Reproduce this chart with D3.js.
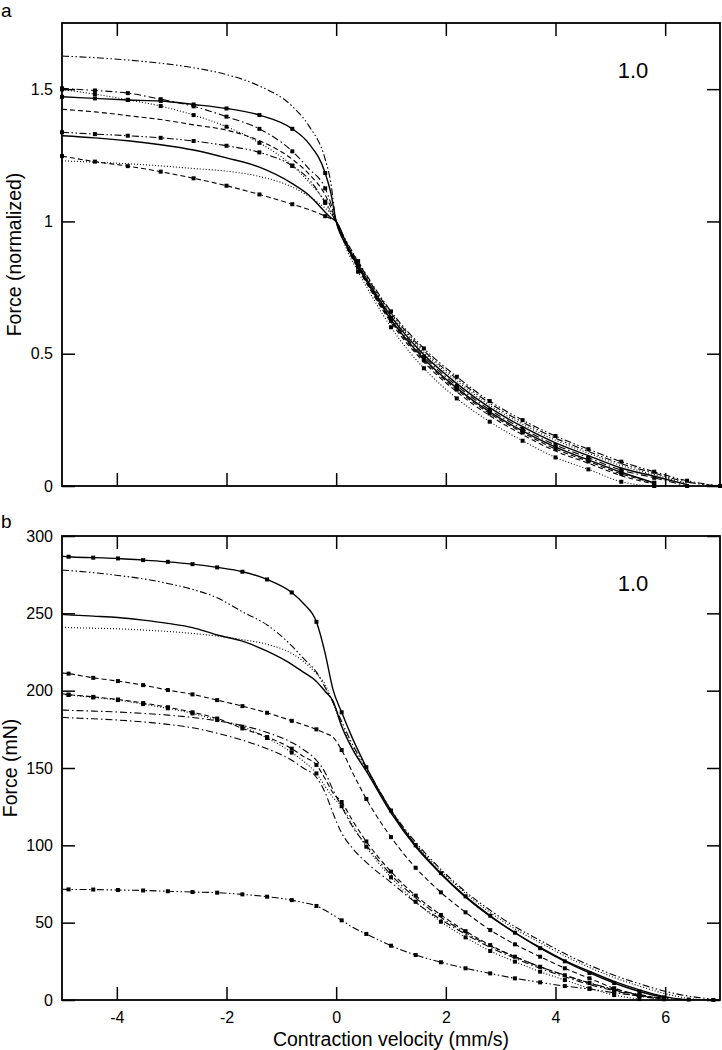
<!DOCTYPE html>
<html>
<head>
<meta charset="utf-8">
<script src="https://cdn.jsdelivr.net/npm/d3@7"></script>
<style>
  body { margin: 0; background: #fff; }
  svg { font-family: "Liberation Sans", Arial, Helvetica, sans-serif; }
</style>
</head>
<body>
<div id="chart"></div>
<script>
// ---- values ----
const ticksX = [-4, -2, 0, 2, 4, 6];
const ticksYA = [0, 0.5, 1, 1.5];
const ticksYB = [0, 50, 100, 150, 200, 250, 300];
const xTitle = "Contraction velocity (mm/s)";
const yTitleA = "Force (normalized)";
const yTitleB = "Force (mN)";
const cornerLabel = "1.0";

// panel a: normalized force, one velocity grid for every trace
const velA = [-5, -4.4, -3.8, -3.2, -2.6, -2, -1.4, -0.8, -0.5, -0.2, -0.1, 0, 0.2, 0.4, 0.7, 1, 1.6, 2.2, 2.8, 3.4, 4, 4.6, 5.2, 5.8, 6.4, 7];
const normDdd     = [1.625, 1.619, 1.610, 1.598, 1.581, 1.555, 1.512, 1.435, 1.362, 1.235, 1.15, 1.0, 0.917, 0.846, 0.745, 0.654, 0.512, 0.405, 0.313, 0.241, 0.181, 0.131, 0.084, 0.049, 0.015, 0];
const normDashDotMk = [1.503, 1.495, 1.485, 1.462, 1.435, 1.396, 1.35, 1.265, 1.2, 1.125, 1.07, 1.0, 0.907, 0.833, 0.729, 0.635, 0.489, 0.379, 0.288, 0.216, 0.155, 0.107, 0.06, 0.031, 0, null];
const normDotMk   = [1.499, 1.481, 1.46, 1.436, 1.402, 1.358, 1.297, 1.211, 1.15, 1.075, 1.04, 1.0, 0.89, 0.81, 0.70, 0.60, 0.445, 0.331, 0.243, 0.171, 0.108, 0.063, 0.016, 0, null, null];
const normSolidMk = [1.471, 1.465, 1.459, 1.455, 1.442, 1.427, 1.402, 1.35, 1.295, 1.183, 1.11, 1.0, 0.904, 0.829, 0.724, 0.629, 0.481, 0.370, 0.280, 0.208, 0.147, 0.099, 0.052, 0.012, null, null];
const normDash    = [1.424, 1.414, 1.40, 1.385, 1.365, 1.345, 1.305, 1.235, 1.18, 1.1, 1.055, 1.0, 0.899, 0.822, 0.715, 0.618, 0.468, 0.356, 0.266, 0.194, 0.132, 0.086, 0.039, 0.008, null, null];
const normDddMk   = [1.337, 1.330, 1.324, 1.316, 1.304, 1.286, 1.261, 1.21, 1.16, 1.07, 1.035, 1.0, 0.92, 0.85, 0.75, 0.66, 0.52, 0.413, 0.321, 0.249, 0.189, 0.139, 0.092, 0.054, 0.02, 0];
const normSolid   = [1.324, 1.316, 1.305, 1.29, 1.27, 1.24, 1.205, 1.143, 1.1, 1.035, 1.015, 1.0, 0.910, 0.837, 0.734, 0.641, 0.496, 0.387, 0.296, 0.224, 0.163, 0.115, 0.068, 0.037, 0.005, null];
const normDashMk  = [1.247, 1.226, 1.209, 1.188, 1.163, 1.135, 1.102, 1.065, 1.045, 1.02, 1.01, 1.0, 0.902, 0.826, 0.72, 0.624, 0.475, 0.364, 0.274, 0.202, 0.14, 0.093, 0.046, 0.012, null, null];
const normDot     = [1.229, 1.224, 1.218, 1.21, 1.20, 1.19, 1.17, 1.13, 1.095, 1.05, 1.03, 1.0, 0.914, 0.842, 0.74, 0.648, 0.505, 0.397, 0.305, 0.233, 0.173, 0.124, 0.077, 0.043, 0.01, null];

// panel b: force in mN
const velB = [-5, -4.88, -4.43, -3.98, -3.52, -3.07, -2.62, -2.17, -1.71, -1.26, -0.81, -0.6, -0.36, -0.2, -0.06, 0.1, 0.3, 0.55, 1.0, 1.45, 1.91, 2.36, 2.81, 3.26, 3.72, 4.17, 4.62, 5.07, 5.53, 5.98, 6.43, 6.88, 7.0];
const forceSolidMk = [287, 286.6, 286, 285.5, 284.4, 283.3, 281.8, 279.7, 276.9, 271.9, 263.5, 256.5, 244.5, 224, 201, 186, 169, 150.5, 122.5, 100, 82, 67, 54.5, 43.5, 33.5, 25, 17.5, 11, 5.5, 1.7, null, null, null];
const forceDdd     = [278, 277.7, 276.3, 274.5, 272.3, 269.3, 265.5, 260, 251, 242.5, 229, 221, 212, 202, 192.5, 180, 165, 150, 123, 102, 84.5, 70, 58, 47.5, 38.5, 30, 22.5, 16, 10.5, 5.8, 2.5, 0.5, 0];
const forceSolid   = [249.3, 249, 248.2, 247.3, 245.6, 243.5, 240.8, 236, 232, 225.5, 217, 212, 206, 199.5, 193.5, 177, 162, 148, 121, 99, 81.5, 66.5, 54, 43.5, 34, 25.5, 18.5, 12, 6.5, 2.2, 0, null, null];
const forceDot     = [241, 240.8, 240.4, 240, 239.2, 238.3, 237, 235.3, 233, 230, 224, 219, 211, 204, 192, 178, 163, 149, 122.5, 101, 83.5, 69, 56.5, 46, 37, 28.5, 21, 14.5, 9, 4.3, 1, 0, null];
const forceDashMk  = [211.5, 211, 208.3, 206.2, 203.6, 200.4, 197.6, 193.9, 190, 185.7, 180.5, 178, 175, 172.5, 170, 161.6, 147, 130, 105.3, 85.5, 69.6, 56.7, 45.2, 36, 28, 20.5, 14, 7.6, 3.2, 1.1, null, null, null];
const forceDotMk   = [197.5, 197.2, 195.6, 193.9, 191.3, 188.6, 185.3, 181, 176.7, 169.4, 160, 154.5, 146.5, 138, 131, 125.3, 113, 99.1, 79.3, 63.5, 50.6, 40.5, 31.7, 24.8, 18.3, 12.9, 7.6, 3.2, 0.6, null, null, null, null];
const forceDashMk2 = [198, 197.5, 196, 194.3, 192, 189.3, 186, 182, 175.6, 170, 162.5, 157.5, 152, 143, 134, 128, 116, 102.5, 83, 67.5, 55, 44.5, 35.5, 28, 21.5, 16, 11, 6.5, 3, 0.5, null, null, null];
const forceDashDot  = [187.5, 187.3, 186.8, 186.2, 185.3, 184.2, 182.7, 180.5, 177.5, 173, 166.5, 162, 155, 147, 136, 125, 112, 100, 81, 66, 53.5, 43.5, 35, 28, 21.5, 16, 11, 7, 3.5, 1, null, null, null];
const forceDashDot2 = [182.7, 182.5, 181.8, 181, 179.8, 178.2, 176, 172.5, 168, 162.5, 155, 150, 144, 134, 121, 108, 98, 89, 76, 63, 52, 42.5, 34, 27, 20.5, 15, 10, 6, 2.5, 0.3, null, null, null];
const forceDddMk   = [71.6, 71.5, 71.4, 71.1, 70.8, 70.3, 69.8, 69.4, 68.3, 66.8, 64.6, 63, 60.8, 58, 55, 51.5, 47, 42.7, 35.1, 29.1, 24.4, 20.5, 17.2, 14, 11.4, 9, 7.1, 4.7, 2.6, 1.1, 0.3, 0, 0];

// ---- look ----
const dashes = {
  solid: null,
  dashed: "5,3",
  dotted: "1,2",
  dashdot: "7,3,1.5,3",
  dashdotdot: "7,2.5,1.5,2.5,1.5,2.5"
};

const width = 722;
const height = 1050;
const margin = {left: 62, right: 2};
const tickLen = 13;

const svg = d3.select("#chart").append("svg")
  .attr("width", width)
  .attr("height", height);

const x = d3.scaleLinear().domain([-5, 7]).range([margin.left, width - margin.right]);

const panels = [
  {
    id: "a", top: 23, bottom: 486, yDomain: [0, 1.75], yTicks: ticksYA,
    vel: velA, markStart: -5, markStep: 0.6, showX: false,
    yTitle: yTitleA, yTitleX: 21, idY: 17,
    traces: [
      {values: normDdd, style: "dashdotdot", marks: false},
      {values: normDashDotMk, style: "dashdot", marks: true},
      {values: normDotMk, style: "dotted", marks: true},
      {values: normSolidMk, style: "solid", marks: true},
      {values: normDash, style: "dashed", marks: false},
      {values: normDddMk, style: "dashdotdot", marks: true},
      {values: normSolid, style: "solid", marks: false},
      {values: normDashMk, style: "dashed", marks: true},
      {values: normDot, style: "dotted", marks: false}
    ]
  },
  {
    id: "b", top: 536, bottom: 1000, yDomain: [0, 300], yTicks: ticksYB,
    vel: velB, markStart: -4.88, markStep: 0.4523, showX: true,
    yTitle: yTitleB, yTitleX: 17, idY: 528,
    traces: [
      {values: forceSolidMk, style: "solid", marks: true},
      {values: forceDdd, style: "dashdotdot", marks: false},
      {values: forceSolid, style: "solid", marks: false},
      {values: forceDot, style: "dotted", marks: false},
      {values: forceDashMk, style: "dashed", marks: true},
      {values: forceDotMk, style: "dotted", marks: true},
      {values: forceDashMk2, style: "dashed", marks: true},
      {values: forceDashDot, style: "dashdot", marks: false},
      {values: forceDashDot2, style: "dashdot", marks: false},
      {values: forceDddMk, style: "dashdotdot", marks: true}
    ]
  }
];

function styleAxis(g) {
  g.select(".domain").remove();
  g.attr("font-size", 16).attr("font-family", null);
  g.selectAll(".tick line").attr("stroke", "#000").attr("stroke-width", 1.5);
  g.selectAll(".tick text").attr("fill", "#000");
}

panels.forEach(p => {
  const y = d3.scaleLinear().domain(p.yDomain).range([p.bottom, p.top]);
  const g = svg.append("g").attr("class", "panel-" + p.id);

  g.append("clipPath").attr("id", "clip-" + p.id)
    .append("rect")
    .attr("x", x.range()[0]).attr("y", p.top)
    .attr("width", x.range()[1] - x.range()[0]).attr("height", p.bottom - p.top);

  const line = d3.line()
    .defined(d => d.f != null)
    .x(d => x(d.v))
    .y(d => y(d.f))
    .curve(d3.curveMonotoneX);

  const isMark = v => {
    const k = (v - p.markStart) / p.markStep;
    return Math.abs(k - Math.round(k)) < 0.05;
  };

  p.traces.forEach(t => {
    const pts = p.vel.map((v, i) => ({v: v, f: t.values[i]}));
    g.append("path")
      .datum(pts)
      .attr("clip-path", `url(#clip-${p.id})`)
      .attr("fill", "none")
      .attr("stroke", "#000")
      .attr("stroke-width", t.style === "solid" ? 1.4 : 1.1)
      .attr("stroke-dasharray", dashes[t.style])
      .attr("d", line);

    if (t.marks) {
      g.append("g").selectAll("rect")
        .data(pts.filter(d => d.f != null && isMark(d.v)))
        .enter().append("rect")
        .attr("x", d => x(d.v) - 2)
        .attr("y", d => y(d.f) - 2)
        .attr("width", 4)
        .attr("height", 4)
        .attr("fill", "#000");
    }
  });

  // axes with inward ticks on all four sides
  g.append("g")
    .attr("transform", `translate(0,${p.bottom})`)
    .call(d3.axisBottom(x).tickValues(ticksX).tickSize(-tickLen).tickPadding(12)
      .tickFormat(p.showX ? d => String(d) : ""))
    .call(styleAxis);
  g.append("g")
    .attr("transform", `translate(0,${p.top})`)
    .call(d3.axisTop(x).tickValues(ticksX).tickSize(-tickLen).tickFormat(""))
    .call(styleAxis);
  g.append("g")
    .attr("transform", `translate(${x.range()[0]},0)`)
    .call(d3.axisLeft(y).tickValues(p.yTicks).tickSize(-tickLen).tickPadding(9)
      .tickFormat(d => String(d)))
    .call(styleAxis);
  g.append("g")
    .attr("transform", `translate(${x.range()[1]},0)`)
    .call(d3.axisRight(y).tickValues(p.yTicks).tickSize(-tickLen).tickFormat(""))
    .call(styleAxis);

  g.append("rect")
    .attr("x", x.range()[0]).attr("y", p.top)
    .attr("width", x.range()[1] - x.range()[0]).attr("height", p.bottom - p.top)
    .attr("fill", "none").attr("stroke", "#000").attr("stroke-width", 1.8);

  // texts
  g.append("text")
    .attr("x", 1).attr("y", p.idY)
    .attr("font-size", 19)
    .text(p.id);

  g.append("text")
    .attr("x", 633).attr("y", p.top + 55)
    .attr("text-anchor", "middle")
    .attr("font-size", 22)
    .text(cornerLabel);

  g.append("text")
    .attr("transform", `translate(${p.yTitleX},${(p.top + p.bottom) / 2}) rotate(-90)`)
    .attr("text-anchor", "middle")
    .attr("font-size", 19.5)
    .text(p.yTitle);

  if (p.showX) {
    g.append("text")
      .attr("x", (x.range()[0] + x.range()[1]) / 2)
      .attr("y", p.bottom + 46)
      .attr("text-anchor", "middle")
      .attr("font-size", 19.5)
      .text(xTitle);
  }
});
</script>
</body>
</html>
